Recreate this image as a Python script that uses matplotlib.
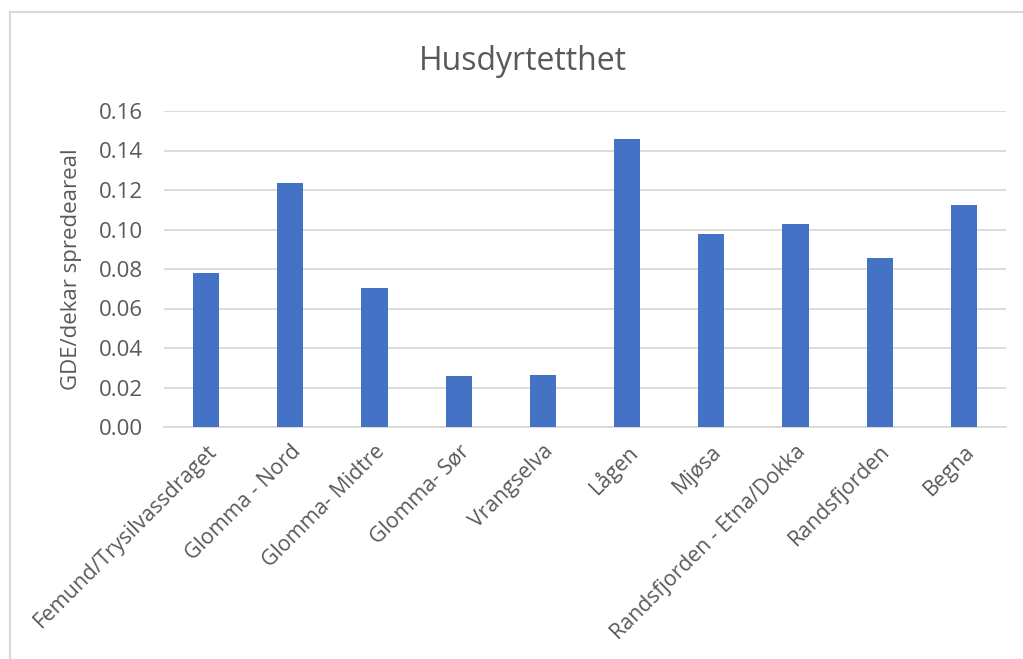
import matplotlib.pyplot as plt
from matplotlib.patches import Rectangle
import numpy as np

plt.rcParams['font.family'] = ['Open Sans', 'DejaVu Sans']

categories = ["Femund/Trysilvassdraget", "Glomma - Nord", "Glomma- Midtre",
              "Glomma- Sør", "Vrangselva", "Lågen", "Mjøsa",
              "Randsfjorden - Etna/Dokka", "Randsfjorden", "Begna"]
values = [0.078, 0.1235, 0.0705, 0.0258, 0.0265, 0.1458, 0.0978, 0.1028, 0.0856, 0.1123]
yticks = [0.00, 0.02, 0.04, 0.06, 0.08, 0.10, 0.12, 0.14, 0.16]

text_col = '#595959'
grid_col = '#D9D9D9'
bar_col = '#4472C4'

fig = plt.figure(figsize=(10.23, 6.59), dpi=100)

# chart frame (only the top and left edges fall inside the image)
fig.patches.append(Rectangle((10 / 1023, -0.1), 1.2, 1 - 12 / 659 + 0.1,
                             transform=fig.transFigure, fill=False,
                             edgecolor='#D9D9D9', linewidth=1.5))

ax = fig.add_axes([164 / 1023, 1 - 427 / 659, (1006 - 164) / 1023, (427 - 111) / 659])
x = np.arange(len(categories))
ax.bar(x, values, width=0.31, color=bar_col, zorder=3)

ax.set_xlim(-0.5, len(categories) - 0.5)
ax.set_ylim(0, 0.16)
ax.set_yticks(yticks)
ax.set_yticklabels([f"{v:.2f}" for v in yticks])
ax.set_xticks(x)
ax.set_xticklabels(categories, rotation=45, ha='right', rotation_mode='anchor')

ax.grid(axis='y', color=grid_col, linewidth=1.3, zorder=0)
for s in ['top', 'right', 'left']:
    ax.spines[s].set_visible(False)
ax.spines['bottom'].set_color(grid_col)
ax.spines['bottom'].set_linewidth(1.3)
ax.tick_params(axis='both', length=0, colors=text_col)
ax.tick_params(axis='y', pad=15, labelsize=16)
ax.tick_params(axis='x', pad=10, labelsize=15.3)

ax.set_ylabel("GDE/dekar spredeareal", color=text_col, fontsize=16, labelpad=12)
fig.text(523 / 1023, 1 - 62 / 659, "Husdyrtetthet", color=text_col, fontsize=23,
         ha='center', va='center')

fig.savefig("out.png", dpi=100, facecolor='white')
